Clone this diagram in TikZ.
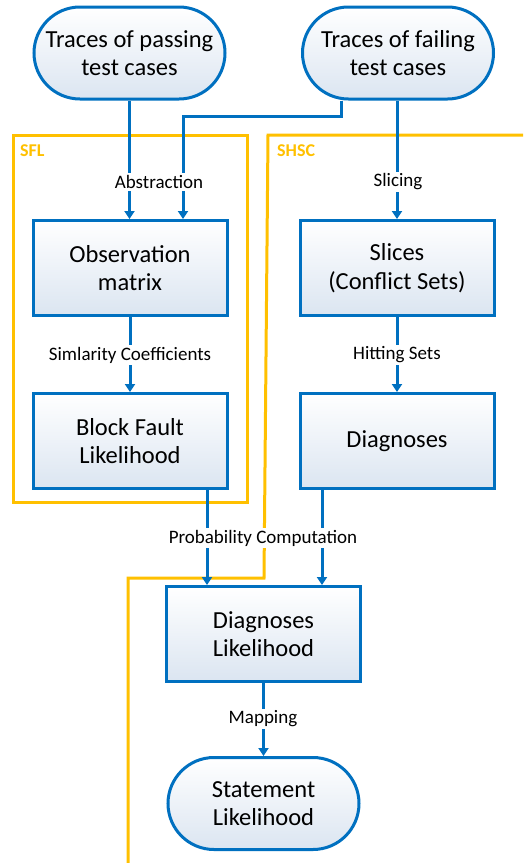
\documentclass[tikz,border=0pt]{standalone}
\usepackage{fontspec}
\setmainfont{Carlito}
\usetikzlibrary{arrows.meta}
\definecolor{lblue}{RGB}{0,112,192}
\definecolor{lyel}{RGB}{255,192,0}
\definecolor{lfill}{RGB}{219,229,241}
\begin{document}
\begin{tikzpicture}[x=1pt,y=-1pt,
  box/.style={draw=lblue, line width=3pt, top color=white, bottom color=lfill,
    minimum width=194pt, minimum height=95pt, align=center,
    font=\fontsize{24.5}{28.5}\selectfont, inner sep=0pt},
  term/.style={box, minimum width=191pt, minimum height=92pt, rounded corners=46pt},
  lab/.style={fill=white, font=\fontsize{19}{22}\selectfont, inner sep=2pt},
  conn/.style={draw=lblue, line width=3pt, -{Triangle[width=10pt,length=8pt]}},
  region/.style={draw=lyel, line width=3pt},
  rlab/.style={text=lyel, font=\bfseries\fontsize{18}{20}\selectfont, inner sep=0pt, anchor=west}
]
\useasboundingbox (0,0) rectangle (523,863);
% regions
\draw[region] (13,135) rectangle (247,502);
\draw[region] (523,135) -- (268,135) -- (264,578) -- (128,578) -- (128,863);
\node[rlab] (sfl) at (20,151) {SFL};
\node[rlab] (shsc) at (277,151) {SHSC};
% nodes
\node[term] (pass) at (129.5,53) {Traces of passing\\test cases};
\node[term] (fail) at (398,53) {Traces of failing\\test cases};
\node[box] (obs) at (130,268) {Observation\\matrix};
\node[box] (slices) at (397,268) {Slices\\(Conflict Sets)};
\node[box] (block) at (130,441) {Block Fault\\Likelihood};
\node[box] (diag) at (397,441) {Diagnoses};
\node[box] (dlik) at (263.5,634) {Diagnoses\\Likelihood};
\node[term] (stmt) at (263.5,803.5) {Statement\\Likelihood};
% helper coordinates
\coordinate (xf) at (341,116);
\coordinate (xa) at (183,0);
\coordinate (xb) at (207,0);
\coordinate (xc) at (322,0);
% connectors
\draw[conn] (pass.south) -- (pass.south |- obs.north);
\draw[conn] (fail.south -| xf) -- (xf) -| (obs.north -| xa);
\draw[conn] (fail.south -| slices.north) -- (slices.north);
\draw[conn] (obs.south) -- (block.north);
\draw[conn] (slices.south) -- (diag.north);
\draw[conn] (block.south -| xb) -- (dlik.north -| xb);
\draw[conn] (diag.south -| xc) -- (dlik.north -| xc);
\draw[conn] (dlik.south) -- (stmt.north);
% labels
\node[lab] (l1) at (159,182) {Abstraction};
\node[lab] (l2) at (398,182) {Slicing};
\node[lab] (l3) at (130,355) {Simlarity Coefficients};
\node[lab] (l4) at (397,355) {Hitting Sets};
\node[lab] (l5) at (263,538) {Probability Computation};
\node[lab] (l6) at (263,719) {Mapping};
\end{tikzpicture}
\end{document}
